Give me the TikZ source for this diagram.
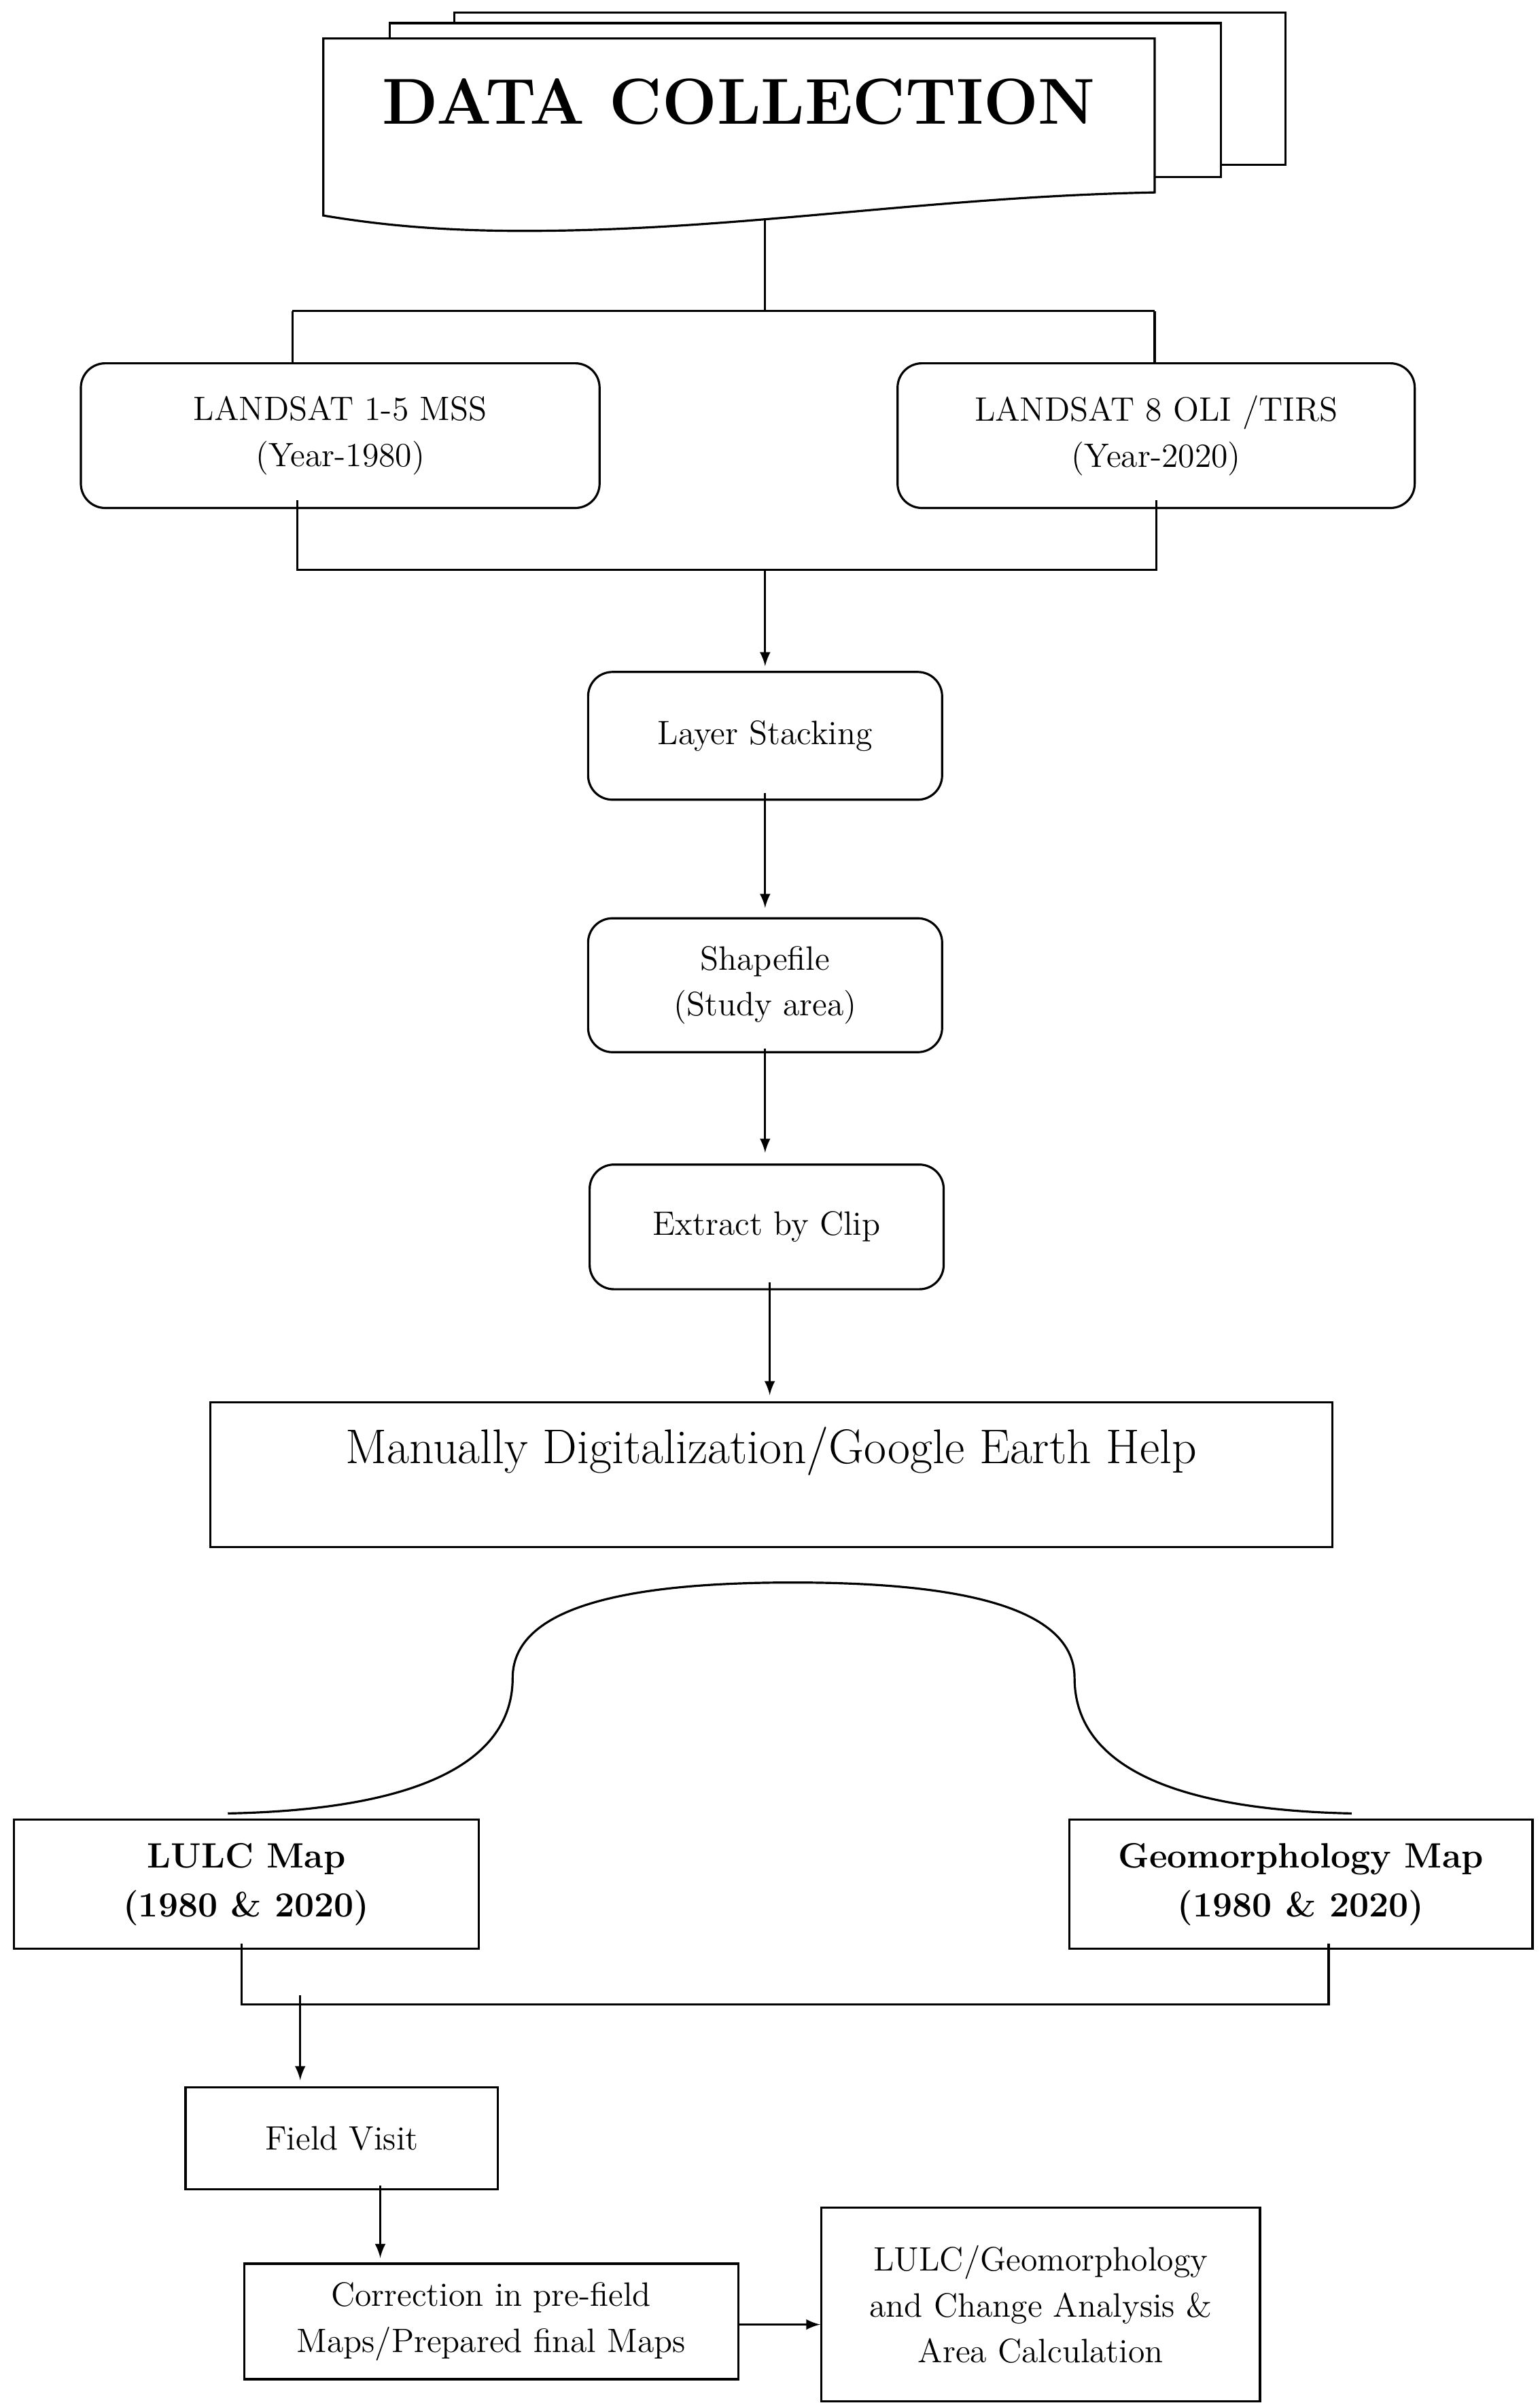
\documentclass[tikz,border=0pt]{standalone}
\usepackage{tikz}
\usetikzlibrary{calc}
\begin{document}
\begin{tikzpicture}[x=0.02cm, y=-0.02cm, >=latex, line width=0.8pt,
  rbox/.style={draw, rounded corners=9pt, align=center, font=\fontsize{12.5}{17}\selectfont},
  sbox/.style={draw, align=center, font=\fontsize{12.5}{17}\selectfont}]

  \useasboundingbox (0,0) rectangle (1000,1561);

  % Data collection sheets
  \draw[fill=white] (295,8) rectangle (835,107);
  \draw[fill=white] (253,15) rectangle (793,115);
  \draw[fill=white] (210,25) -- (750,25) -- (750,125)
    .. controls (600,128) and (480,150) .. (340,150)
    .. controls (280,150) and (240,145) .. (210,140) -- cycle;
  \node[font=\fontsize{24}{28}\selectfont\bfseries] (dc) at (480,66) {DATA COLLECTION};

  % First row
  \node[rbox, minimum width=6.74cm, minimum height=1.88cm] (L1) at (221,283) {LANDSAT 1-5 MSS\\(Year-1980)};
  \node[rbox, minimum width=6.72cm, minimum height=1.88cm] (L2) at (751,283) {LANDSAT 8 OLI /TIRS\\(Year-2020)};

  % Processing chain
  \node[rbox, minimum width=4.6cm, minimum height=1.66cm] (ls) at (497,478) {Layer Stacking};
  \node[rbox, minimum width=4.6cm, minimum height=1.74cm] (sf) at (497,640) {Shapefile\\(Study area)};
  \node[rbox, minimum width=4.6cm, minimum height=1.62cm] (ec) at (498,797) {Extract by Clip};
  \node[draw, minimum width=14.58cm, minimum height=1.88cm,
    label={[anchor=north, yshift=-0.2cm, font=\fontsize{18}{22}\selectfont]north:Manually Digitalization/Google Earth Help}] (md) at (501,958) {};

  % Maps
  \node[sbox, minimum width=6.04cm, minimum height=1.68cm, font=\fontsize{13}{18}\selectfont\bfseries] (lulc) at (160,1224) {LULC Map\\(1980 \& 2020)};
  \node[sbox, minimum width=6.02cm, minimum height=1.68cm, font=\fontsize{13}{18}\selectfont\bfseries] (geo) at (845,1224) {Geomorphology Map\\(1980 \& 2020)};

  % Last row
  \node[sbox, minimum width=4.06cm, minimum height=1.32cm] (fv) at (222,1389) {Field Visit};
  \node[sbox, minimum width=6.42cm, minimum height=1.5cm] (cor) at (319,1508) {Correction in pre-field\\Maps/Prepared final Maps};
  \node[sbox, minimum width=5.7cm, minimum height=2.52cm] (ca) at (676,1497) {LULC/Geomorphology\\and Change Analysis \&\\Area Calculation};

  % Junction points
  \coordinate (j1) at (497,202);
  \coordinate (j1l) at (190,202);
  \coordinate (j1r) at (750,202);
  \coordinate (j2l) at (193,370);
  \coordinate (j2r) at (751,370);
  \coordinate (j2) at (497,370);
  \coordinate (j3l) at (157,1302);
  \coordinate (j3r) at (863,1302);
  \coordinate (j3) at (195,1302);

  % Connectors
  \draw (497,143) -- (j1);
  \draw (j1l) -- (j1r);
  \draw (j1l) -- (L1.north -| j1l);
  \draw (j1r) -- (L2.north -| j1r);
  \draw ($(L1.south -| j2l)+(0,-6)$) -- (j2l) -- (j2r) -- ($(L2.south -| j2r)+(0,-6)$);
  \draw[->] (j2) -- ($(ls.north)+(0,-3)$);
  \draw[->] ($(ls.south)+(0,-5)$) -- ($(sf.north)+(0,-6)$);
  \draw[->] ($(sf.south)+(0,-3)$) -- ($(ec.north -| sf.south)+(0,-7)$);
  \draw[->] ($(ec.south)+(2,-5)$) -- ($(md.north -| 500,0)+(0,-4)$);

  % Arch
  \draw (148,1178) .. controls (300,1175) and (333,1130) .. (333,1090)
    .. controls (333,1040) and (420,1028) .. (515,1028)
    .. controls (610,1028) and (698,1040) .. (698,1090)
    .. controls (698,1130) and (730,1175) .. (878,1178);

  \draw ($(lulc.south -| j3l)+(0,-4)$) -- (j3l) -- (j3r) -- ($(geo.south -| j3r)+(0,-4)$);
  \draw[->] ($(j3)+(0,-6)$) -- ($(fv.north -| j3)+(0,-4)$);
  \draw[->] ($(fv.south)+(25,-3)$) -- ($(cor.north -| 247,0)+(0,-3)$);
  \draw[->] (cor.east |- 0,1510) -- (ca.west |- 0,1510);

\end{tikzpicture}
\end{document}
